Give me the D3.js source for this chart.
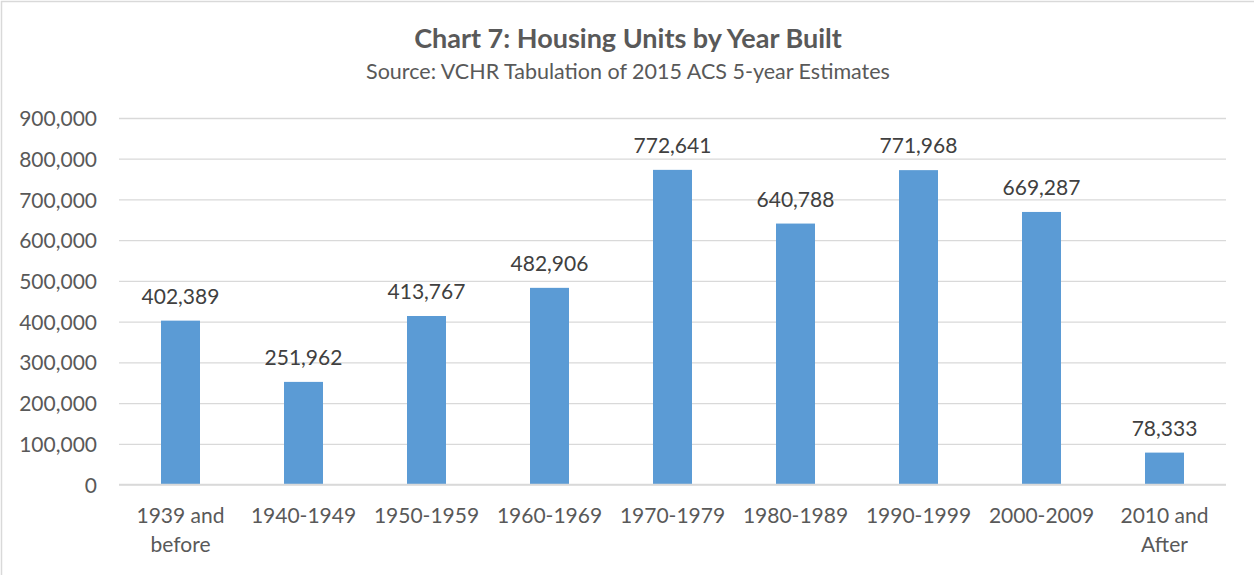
<!DOCTYPE html>
<html lang="en">
<head>
  <meta charset="UTF-8">
  <title>Chart 7</title>
  <style>
    * { padding: 0; margin: 0; }
    html, body { width: 1254px; height: 575px; overflow: hidden; background: #fff; }
    text { font-family: Lato, "Open Sans", sans-serif; }
  </style>
</head>
<body>
  <script src="https://cdn.jsdelivr.net/npm/d3@7/dist/d3.min.js"></script>
  <script>
    // data
    const categories = ['1939 and before', '1940-1949', '1950-1959', '1960-1969', '1970-1979',
      '1980-1989', '1990-1999', '2000-2009', '2010 and After']
    const units = [402389, 251962, 413767, 482906, 772641, 640788, 771968, 669287, 78333]
    const yTicks = [0, 100000, 200000, 300000, 400000, 500000, 600000, 700000, 800000, 900000]
    const titleText = 'Chart 7: Housing Units by Year Built'
    const subtitleText = 'Source: VCHR Tabulation of 2015 ACS 5-year Estimates'

    const width = 1254, height = 575
    const plot = { left: 119, right: 1226, top: 118, bottom: 484.5 }

    const svg = d3.select('body').append('svg').attr('width', width).attr('height', height)

    // chart border (only top/left visible in the crop)
    svg.append('rect').attr('x', 1.5).attr('y', 1.5).attr('width', width + 10).attr('height', height + 10)
      .attr('fill', '#fff').attr('stroke', '#d9d9d9').attr('stroke-width', 1.5)

    const x = d3.scaleBand().domain(categories).range([plot.left, plot.right]).padding(0)
    const y = d3.scaleLinear().domain([0, 900000]).range([plot.bottom, plot.top])
    const barW = x.bandwidth() * 0.317
    const fmt = d3.format(',')

    // title
    svg.append('text').attr('x', 628).attr('y', 48).attr('text-anchor', 'middle')
      .style('font-size', '27px').style('font-weight', 'bold').attr('fill', '#595959').text(titleText)
    svg.append('text').attr('x', 628).attr('y', 79).attr('text-anchor', 'middle')
      .style('font-size', '21.5px').attr('fill', '#595959').text(subtitleText)

    // gridlines + y axis labels
    const yAxis = d3.axisLeft(y).tickValues(yTicks).tickFormat(fmt)
      .tickSize(-(plot.right - plot.left)).tickPadding(22)
    const gy = svg.append('g').attr('transform', `translate(${plot.left},0)`).call(yAxis)
    gy.select('.domain').remove()
    gy.selectAll('.tick line').attr('stroke', '#d9d9d9').attr('stroke-width', 1.3)
    gy.selectAll('.tick text').attr('fill', '#595959').style('font-size', '21px')
      .attr('dy', '0.36em')

    // bars
    svg.append('g').selectAll('rect').data(units).join('rect')
      .attr('x', (d, i) => x(categories[i]) + x.bandwidth() / 2 - barW / 2)
      .attr('y', d => y(d))
      .attr('width', barW)
      .attr('height', d => y(0) - y(d))
      .attr('fill', '#5b9bd5')

    // baseline
    svg.append('line').attr('x1', plot.left).attr('x2', plot.right)
      .attr('y1', y(0)).attr('y2', y(0)).attr('stroke', '#d9d9d9').attr('stroke-width', 1.3)

    // data labels
    svg.append('g').selectAll('text').data(units).join('text')
      .attr('x', (d, i) => x(categories[i]) + x.bandwidth() / 2)
      .attr('y', d => y(d) - 17)
      .attr('text-anchor', 'middle')
      .attr('fill', '#404040').style('font-size', '21px')
      .text(d => fmt(d))

    // x axis labels, wrapped like Excel
    const lines = c => c.includes(' and ') ? [c.split(' and ')[0] + ' and', c.split(' and ')[1]] : [c]
    const gx = svg.append('g')
    categories.forEach(c => {
      const t = gx.append('text').attr('x', x(c) + x.bandwidth() / 2).attr('y', 523)
        .attr('text-anchor', 'middle').attr('fill', '#595959').style('font-size', '21px')
      lines(c).forEach((l, j) => {
        t.append('tspan').attr('x', x(c) + x.bandwidth() / 2).attr('y', 523 + j * 29).text(l)
      })
    })
  </script>
</body>
</html>
